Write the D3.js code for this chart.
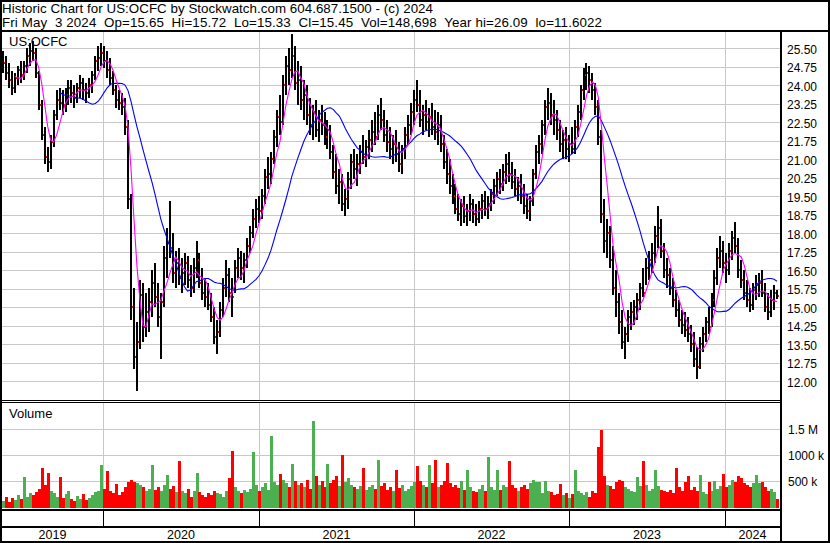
<!DOCTYPE html>
<html>
<head>
<meta charset="utf-8">
<script src="https://cdn.jsdelivr.net/npm/d3@7"></script>
<style>
  body { margin: 0; background: #fff; }
  svg { display: block; font-family: Arial, "Liberation Sans", sans-serif; }
</style>
</head>
<body>
<div id="chart"></div>
<script>
// weekly bars, Fri 10 May 2019 .. Fri 3 May 2024
const hi = [
  25.4,25.2,24.9,24.6,24.5,24.8,25.0,25.0,25.5,25.7,
  25.8,25.5,24.6,23.4,22.3,21.5,22.0,23.0,23.8,23.9,
  23.8,23.9,24.2,24.2,24.0,24.1,24.4,24.3,24.1,24.3,
  24.6,25.2,25.6,25.7,25.6,25.4,25.1,24.6,24.0,23.8,
  23.7,23.5,22.6,19.6,15.8,14.4,16.1,16.0,15.6,15.8,
  16.5,16.8,16.0,15.6,17.5,18.2,19.3,18.0,17.3,17.4,
  17.0,17.2,17.1,16.7,17.0,17.7,17.2,16.6,16.2,16.0,
  15.6,15.0,14.5,15.2,16.2,16.9,16.6,16.2,16.9,17.4,
  17.3,17.2,17.8,18.3,19.0,19.4,19.5,19.8,20.6,21.1,
  21.3,22.2,23.0,23.6,24.4,25.2,25.5,26.09,25.6,25.0,
  24.8,24.2,24.0,23.5,23.2,23.4,23.0,23.2,22.9,22.6,
  22.4,21.6,21.2,20.6,20.4,19.8,20.5,21.2,21.4,21.2,
  21.6,22.0,21.8,22.2,22.6,22.9,23.2,23.5,23.0,22.6,
  22.3,22.0,22.2,21.7,21.6,22.3,22.8,23.3,23.8,24.2,
  23.8,23.2,23.4,23.1,23.3,23.0,22.9,22.8,22.0,21.4,
  21.0,20.4,20.0,19.6,19.4,19.5,19.2,19.6,19.4,19.2,
  19.3,19.6,19.7,19.5,19.8,20.2,20.5,20.6,20.8,21.2,
  21.3,20.9,20.6,20.3,20.4,20.0,19.6,19.5,20.6,21.6,
  22.0,22.6,23.4,23.9,23.7,23.4,23.0,22.6,22.2,22.3,
  22.0,22.3,22.6,23.2,24.0,24.7,24.9,24.8,24.5,24.1,
  23.4,22.2,19.4,18.6,18.3,17.5,16.5,15.6,14.9,14.2,
  14.9,15.2,15.3,15.6,16.0,16.6,17.0,17.3,17.6,18.3,
  19.1,18.6,17.6,17.0,16.6,16.2,15.7,15.3,14.9,14.8,
  14.6,14.3,14.0,13.4,13.8,14.2,14.6,15.0,15.6,16.5,
  17.4,17.9,17.7,17.2,17.6,18.1,18.45,17.8,16.9,16.5,
  16.1,15.8,16.0,16.3,16.4,16.5,16.0,15.6,15.7,15.9,15.72
];
const lo = [
  24.5,24.2,23.9,23.6,23.7,24.0,24.1,24.2,24.5,24.8,
  25.0,24.3,23.0,21.8,20.8,20.5,20.6,21.5,22.6,23.0,
  22.8,22.9,23.2,23.3,23.1,23.3,23.5,23.4,23.3,23.5,
  23.7,24.2,24.6,24.8,24.7,24.3,24.0,23.6,23.1,23.0,
  22.8,22.0,19.0,14.5,12.5,11.6,13.3,13.6,13.8,14.0,
  14.6,15.0,14.2,12.9,15.0,16.2,17.0,16.0,15.8,15.9,
  15.6,15.9,15.8,15.4,15.6,16.2,15.8,15.3,15.0,14.9,
  14.4,13.5,13.1,13.8,14.6,15.4,15.2,14.6,15.6,16.2,
  16.1,16.0,16.6,17.2,17.8,18.2,18.4,18.6,19.2,19.8,
  20.0,20.8,21.5,22.0,22.4,23.6,24.0,24.3,23.8,23.2,
  23.0,22.6,22.4,22.0,21.8,21.9,21.7,22.0,21.6,21.4,
  21.0,20.2,19.6,19.2,18.9,18.7,19.0,19.8,20.2,19.9,
  20.4,20.8,20.7,21.0,21.3,21.6,21.8,22.2,21.7,21.3,
  21.0,20.8,20.9,20.5,20.4,21.0,21.6,22.0,22.4,22.9,
  22.3,22.0,22.2,21.9,22.0,21.8,21.6,21.3,20.6,20.0,
  19.6,19.2,18.8,18.5,18.3,18.4,18.3,18.5,18.4,18.3,
  18.4,18.6,18.7,18.6,18.9,19.2,19.5,19.6,19.7,20.0,
  20.1,19.8,19.5,19.3,19.2,18.8,18.6,18.5,19.1,20.2,
  20.8,21.2,22.0,22.6,22.4,22.0,21.8,21.3,21.0,21.0,
  20.9,21.2,21.2,21.9,22.6,23.4,23.8,23.7,23.4,22.8,
  21.6,18.4,17.2,17.0,16.6,15.5,14.6,13.9,13.3,12.9,
  13.6,14.1,14.3,14.5,14.9,15.4,15.9,16.1,16.4,16.8,
  17.4,17.0,16.2,15.8,15.5,15.0,14.6,14.2,13.9,13.8,
  13.6,13.2,12.6,12.1,12.5,13.2,13.6,13.9,14.2,15.0,
  15.9,16.6,16.4,16.0,16.3,16.9,17.2,16.2,15.8,15.3,
  15.0,14.8,14.9,15.3,15.4,15.4,14.8,14.5,14.6,14.9,15.33
];
const cl = [
  24.9,24.5,24.2,23.9,24.3,24.6,24.4,24.8,25.2,25.4,
  25.3,24.5,23.2,22.0,21.1,20.9,21.7,22.8,23.4,23.3,
  23.2,23.6,23.9,23.7,23.5,23.9,24.1,23.8,23.7,24.0,
  24.4,25.0,25.1,25.3,25.0,24.6,24.3,23.8,23.4,23.3,
  23.1,22.3,19.4,15.0,13.0,13.6,15.5,14.2,14.8,15.2,
  16.0,15.4,14.6,15.2,17.0,17.6,17.4,16.4,16.8,16.2,
  16.4,16.8,16.1,15.8,16.6,16.9,16.0,15.6,15.4,15.1,
  14.6,13.8,14.0,14.9,15.8,16.3,15.6,15.4,16.6,17.0,
  16.6,16.9,17.5,18.0,18.6,19.0,18.9,19.5,20.3,20.4,
  21.0,21.9,22.7,22.5,24.0,24.8,24.6,25.2,24.1,24.2,
  23.4,23.6,22.8,22.4,22.9,22.2,22.6,22.4,21.9,22.2,
  21.3,20.5,19.9,20.1,19.2,19.4,20.2,20.9,20.6,20.8,
  21.3,21.1,21.5,21.8,22.1,21.9,22.8,22.6,22.0,21.7,
  21.4,21.6,21.2,20.8,21.4,22.0,22.4,22.9,23.4,23.2,
  22.6,22.8,22.5,22.7,22.3,22.1,22.4,21.6,20.9,20.4,
  19.9,19.5,19.0,18.8,19.1,18.7,18.9,19.2,18.8,18.6,
  19.0,19.3,19.0,19.2,19.6,19.9,20.2,20.0,20.5,20.8,
  20.4,20.1,19.8,19.9,19.5,19.1,18.9,19.3,20.4,21.3,
  21.6,22.4,23.1,23.3,22.8,22.6,22.2,21.6,21.8,21.4,
  21.6,21.4,22.3,22.9,23.8,24.4,24.5,24.2,23.8,23.1,
  21.9,18.8,17.7,18.0,16.9,15.8,15.2,14.4,13.6,13.9,
  14.6,14.8,15.0,15.3,15.8,15.6,16.6,16.9,17.2,17.9,
  18.2,17.3,16.5,16.3,15.8,15.3,14.9,14.5,14.3,14.1,
  13.9,13.5,12.9,12.6,13.5,13.9,14.4,14.2,15.3,16.2,
  17.0,17.3,16.8,16.5,17.3,17.8,17.5,16.5,16.1,15.6,
  15.3,15.1,15.7,15.9,16.0,15.6,15.0,14.8,15.3,15.6,15.45
];
// volume, thousands of shares
const vol = [
  120,200,100,170,140,230,160,575,190,260,
  230,280,350,750,420,650,300,260,200,580,
  180,250,300,150,120,210,160,240,130,180,
  220,280,310,800,350,690,300,260,440,230,
  280,380,470,520,480,450,420,380,300,350,
  800,330,380,300,420,610,350,400,280,870,
  300,260,340,200,310,650,280,230,190,260,
  220,300,260,240,200,310,560,1070,380,300,
  260,320,280,350,1050,420,300,380,450,330,
  1350,480,420,630,520,450,380,830,500,420,
  450,380,520,340,1650,600,420,500,380,820,
  450,520,600,400,1000,480,550,420,380,350,
  400,750,330,380,420,350,900,400,460,320,
  380,300,700,360,420,300,350,400,480,780,
  500,420,380,800,450,900,380,420,500,850,
  450,380,420,360,500,320,700,380,300,280,
  350,420,300,950,380,320,700,330,420,380,
  880,420,360,300,380,420,350,460,520,480,
  480,260,500,300,280,220,250,440,220,260,
  180,240,700,300,260,220,280,200,300,260,
  1150,1480,600,420,400,350,480,520,500,380,
  350,300,280,580,400,870,420,300,350,700,
  400,320,300,280,330,260,750,380,300,480,
  600,320,380,300,620,280,250,480,300,500,
  350,400,630,380,420,520,480,590,560,450,
  420,380,460,620,450,480,380,300,350,280,149
];
const priceTicks = [12, 12.75, 13.5, 14.25, 15, 15.75, 16.5, 17.25, 18, 18.75,
                    19.5, 20.25, 21, 21.75, 22.5, 23.25, 24, 24.75, 25.5];
const volTicks = [500, 1000, 1500];
const volLabels = ["500 k", "1000 k", "1.5 M"];
const years = [2019, 2020, 2021, 2022, 2023, 2024];

const title1 = "Historic Chart for US:OCFC by Stockwatch.com 604.687.1500 - (c) 2024";
const title2 = "Fri May  3 2024  Op=15.65  Hi=15.72  Lo=15.33  Cl=15.45  Vol=148,698  Year hi=26.09  lo=11.6022";

const dates = d3.timeFriday.range(new Date(2019, 4, 10), new Date(2024, 4, 4));

const W = 830, H = 543;
const left = 2, right = 780;
const priceTop = 31, priceBot = 400, volTop = 402, volBot = 509, axisMid = 527;

const svg = d3.select("#chart").append("svg")
    .attr("width", W)
    .attr("height", H);

svg.append("rect").attr("width", W).attr("height", H).attr("fill", "#fff");

var x = d3.scaleTime().domain([dates[0], dates[dates.length - 1]]).range([3, 777]);
var y = d3.scaleLinear().domain([12, 25.5]).range([381.3, 48.3]);
var yv = d3.scaleLinear().domain([0, 1500]).range([507, 428.5]);

const bounds = years.slice(1).map(yr => Math.round(x(new Date(yr, 0, 1))));

// grid
const grid = svg.append("g")
    .attr("stroke", "#c8c8c8")
    .attr("shape-rendering", "crispEdges");

grid.selectAll(".hp")
    .data(priceTicks)
    .enter()
    .append("line")
    .attr("x1", left).attr("x2", right)
    .attr("y1", d => Math.round(y(d)) + 0.5)
    .attr("y2", d => Math.round(y(d)) + 0.5);

grid.selectAll(".hv")
    .data(volTicks)
    .enter()
    .append("line")
    .attr("x1", left).attr("x2", right)
    .attr("y1", d => Math.round(yv(d)) + 0.5)
    .attr("y2", d => Math.round(yv(d)) + 0.5);

grid.selectAll(".vp")
    .data(bounds)
    .enter()
    .append("line")
    .attr("x1", d => d + 0.5).attr("x2", d => d + 0.5)
    .attr("y1", priceTop).attr("y2", priceBot);

grid.selectAll(".vv")
    .data(bounds)
    .enter()
    .append("line")
    .attr("x1", d => d + 0.5).attr("x2", d => d + 0.5)
    .attr("y1", volTop).attr("y2", volBot);

// price bars
svg.append("clipPath").attr("id", "pclip")
    .append("rect").attr("x", left).attr("y", priceTop + 1)
    .attr("width", right - left).attr("height", priceBot - priceTop - 2);

const price = svg.append("g")
    .attr("clip-path", "url(#pclip)")
    .attr("shape-rendering", "crispEdges");

const idx = d3.range(dates.length);

price.selectAll(".bar")
    .data(idx)
    .enter()
    .append("rect")
    .attr("x", i => Math.round(x(dates[i])) - 1)
    .attr("y", i => y(hi[i]))
    .attr("width", 2)
    .attr("height", i => y(lo[i]) - y(hi[i]))
    .attr("fill", "#000");

price.selectAll(".cl")
    .data(idx)
    .enter()
    .append("rect")
    .attr("x", i => Math.round(x(dates[i])) + 1)
    .attr("y", i => Math.round(y(cl[i])) - 1)
    .attr("width", 1)
    .attr("height", 2)
    .attr("fill", "#ff0000");

function sma(arr, n) {
    return arr.map((d, i) => i < n - 1 ? null : d3.mean(arr.slice(i - n + 1, i + 1)));
}

const maLine = d3.line()
    .defined(d => d[1] != null)
    .x(d => x(d[0]))
    .y(d => y(d[1]));

const maFast = sma(cl, 5), maSlow = sma(cl, 20);

price.append("path")
    .attr("d", maLine(dates.map((d, i) => [d, maSlow[i]])))
    .attr("fill", "none")
    .attr("stroke", "#0000ff")
    .attr("stroke-width", 1.1)
    .attr("shape-rendering", "auto");

price.append("path")
    .attr("d", maLine(dates.map((d, i) => [d, maFast[i]])))
    .attr("fill", "none")
    .attr("stroke", "#ff00ff")
    .attr("stroke-width", 1.1)
    .attr("shape-rendering", "auto");

// volume
svg.append("g")
    .attr("shape-rendering", "crispEdges")
    .selectAll("rect")
    .data(idx)
    .enter()
    .append("rect")
    .attr("x", i => Math.round(x(dates[i])) - 1)
    .attr("y", i => yv(vol[i]))
    .attr("width", 3)
    .attr("height", i => yv(0) - yv(vol[i]) + 1)
    .attr("fill", i => i === 0 || cl[i] > cl[i - 1] ? "#4caf50" : (cl[i] < cl[i - 1] ? "#ff0000" : "#999999"));

// frame
const frame = svg.append("g").attr("stroke", "#000").attr("shape-rendering", "crispEdges");
frame.append("rect").attr("x", 1).attr("y", 1).attr("width", W - 2).attr("height", H - 2)
    .attr("fill", "none").attr("stroke-width", 2);
frame.append("line").attr("x1", 0).attr("x2", W).attr("y1", 31).attr("y2", 31).attr("stroke-width", 2);
frame.append("line").attr("x1", 0).attr("x2", right).attr("y1", 400.5).attr("y2", 400.5);
frame.append("line").attr("x1", 0).attr("x2", right).attr("y1", 402.5).attr("y2", 402.5);
frame.append("line").attr("x1", 0).attr("x2", right).attr("y1", volBot + 0.5).attr("y2", volBot + 0.5).attr("stroke-width", 2);
frame.append("line").attr("x1", 0).attr("x2", right).attr("y1", axisMid).attr("y2", axisMid).attr("stroke-width", 2);
frame.append("line").attr("x1", 781).attr("x2", 781).attr("y1", 31).attr("y2", H).attr("stroke-width", 2);
frame.selectAll(".yt")
    .data(bounds)
    .enter()
    .append("line")
    .attr("x1", d => d + 0.5).attr("x2", d => d + 0.5)
    .attr("y1", volBot).attr("y2", axisMid);

// texts
svg.append("text")
    .attr("x", 2).attr("y", 12.5)
    .attr("textLength", 431)
    .attr("lengthAdjust", "spacing")
    .style("font-size", "13.33px")
    .style("white-space", "pre")
    .text(title1);

svg.append("text")
    .attr("x", 2).attr("y", 27)
    .attr("textLength", 600)
    .attr("lengthAdjust", "spacing")
    .style("font-size", "13.33px")
    .style("white-space", "pre")
    .text(title2);

svg.append("text")
    .attr("x", 9).attr("y", 46)
    .style("font-size", "13px")
    .text("US:OCFC");

svg.append("text")
    .attr("x", 9).attr("y", 418)
    .style("font-size", "13px")
    .text("Volume");

const yAxis = svg.append("g")
    .attr("transform", "translate(782,0)")
    .call(d3.axisRight(y).tickValues(priceTicks).tickFormat(d3.format(".2f")).tickSize(0).tickPadding(5));

const vAxis = svg.append("g")
    .attr("transform", "translate(782,0)")
    .call(d3.axisRight(yv).tickValues(volTicks).tickFormat((d, i) => volLabels[i]).tickSize(0).tickPadding(6));

[yAxis, vAxis].forEach(g => {
    g.select(".domain").remove();
    g.selectAll("text")
        .attr("fill", "#000")
        .attr("dy", "0.42em")
        .style("font-size", "12px")
        .style("font-family", "Arial, 'Liberation Sans', sans-serif");
});

const edges = [left].concat(bounds, [right]);
svg.selectAll(".year")
    .data(years)
    .enter()
    .append("text")
    .attr("x", (d, i) => (edges[i] + edges[i + 1]) / 2)
    .attr("y", 539)
    .attr("text-anchor", "middle")
    .style("font-size", "12.5px")
    .text(d => d);
</script>
</body>
</html>
